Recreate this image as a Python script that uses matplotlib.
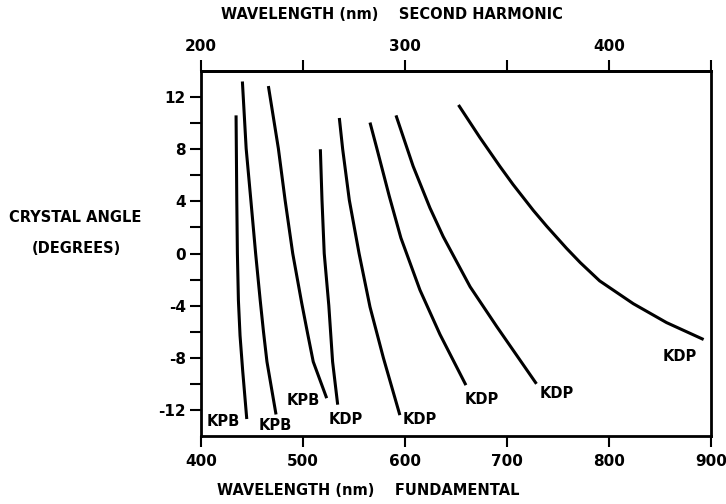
import numpy as np
import matplotlib.pyplot as plt

plt.rcParams['font.family'] = 'DejaVu Sans'
plt.rcParams['font.weight'] = 'bold'

# phase matching curves: fundamental wavelength (nm) vs crystal angle (deg)
kpb1_x = [434.3, 435.0, 435.6, 436.6, 438.2, 440.8, 444.8]
kpb1_y = [10.6, 4.1, 0.0, -3.6, -6.3, -9.0, -12.7]

kpb2_x = [440.5, 444.2, 448.8, 453.5, 458.0, 461.2, 464.6, 473.5]
kpb2_y = [13.2, 8.06, 4.1, 0.0, -3.6, -6.0, -8.3, -12.35]

kpb3_x = [466.0, 475.8, 482.4, 489.9, 498.7, 504.4, 510.0, 523.2]
kpb3_y = [12.85, 8.06, 4.1, 0.0, -3.8, -6.1, -8.3, -11.1]

kdp4_x = [517.0, 518.6, 520.8, 525.3, 529.0, 534.0]
kdp4_y = [8.0, 4.1, 0.0, -4.0, -8.3, -11.6]

kdp5_x = [535.6, 538.9, 545.4, 555.0, 565.7, 578.8, 595.0]
kdp5_y = [10.4, 8.0, 4.1, 0.0, -4.1, -8.0, -12.4]

kdp6_x = [565.7, 572.3, 584.6, 596.0, 614.7, 634.3, 659.8]
kdp6_y = [10.05, 8.1, 4.4, 1.2, -2.8, -6.2, -10.1]

kdp7_x = [591.2, 608.0, 624.5, 637.5, 663.9, 690.0, 729.0]
kdp7_y = [10.6, 6.7, 3.5, 1.3, -2.55, -5.6, -10.0]

kdp8_x = [652.5, 673.5, 693.0, 706.0, 726.0, 739.0, 758.5, 772.0, 791.0, 824.0, 856.6, 893.0]
kdp8_y = [11.4, 8.9, 6.7, 5.3, 3.3, 2.1, 0.4, -0.7, -2.1, -3.85, -5.3, -6.6]

curves = [(kpb1_x, kpb1_y), (kpb2_x, kpb2_y), (kpb3_x, kpb3_y), (kdp4_x, kdp4_y),
          (kdp5_x, kdp5_y), (kdp6_x, kdp6_y), (kdp7_x, kdp7_y), (kdp8_x, kdp8_y)]

label_text = ['KPB', 'KPB', 'KPB', 'KDP', 'KDP', 'KDP', 'KDP', 'KDP']
label_x = [421.3, 472.5, 500.3, 542.2, 614.7, 675.5, 748.7, 869.6]
label_y = [-12.9, -13.2, -11.3, -12.7, -12.7, -11.2, -10.75, -7.9]

x_ticks = [400, 500, 600, 700, 800, 900]
y_ticks = [-12, -8, -4, 0, 4, 8, 12]
y_minor = [-10, -6, -2, 2, 6, 10]
top_ticks = [200, 300, 400]
top_minor = [250, 350, 450]

fig = plt.figure(figsize=(7.26, 5.04), dpi=100)
ax = fig.add_axes([0.277, 0.135, 0.702, 0.724])

for cx, cy in curves:
    ax.plot(cx, cy, color='black', lw=2.2, solid_capstyle='butt', solid_joinstyle='round')

for t, lx, ly in zip(label_text, label_x, label_y):
    ax.text(lx, ly, t, ha='center', va='center', fontsize=10.5, fontweight='bold')

ax.set_xlim(400, 900)
ax.set_ylim(-14, 14)
ax.set_xticks(x_ticks)
ax.set_yticks(y_ticks)
ax.set_yticks(y_minor, minor=True)
ax.set_yticklabels([str(v) for v in y_ticks])

for s in ax.spines.values():
    s.set_linewidth(2)

ax.tick_params(axis='both', which='both', direction='out', length=8, width=1.5,
               labelsize=11)
ax.tick_params(axis='x', pad=5)
ax.tick_params(axis='y', pad=3)

top = ax.secondary_xaxis('top', functions=(lambda x: x / 2, lambda x: x * 2))
top.set_xticks(top_ticks)
top.set_xticks(top_minor, minor=True)
top.tick_params(which='both', direction='out', length=8, width=1.5, labelsize=11, pad=4)
top.spines['top'].set_linewidth(2)

fig.text(0.540, 0.972, 'WAVELENGTH (nm)    SECOND HARMONIC', ha='center', va='center',
         fontsize=10.5, fontweight='bold')
fig.text(0.507, 0.026, 'WAVELENGTH (nm)    FUNDAMENTAL', ha='center', va='center',
         fontsize=10.5, fontweight='bold')
fig.text(0.103, 0.569, 'CRYSTAL ANGLE', ha='center', va='center',
         fontsize=10.5, fontweight='bold')
fig.text(0.105, 0.506, '(DEGREES)', ha='center', va='center',
         fontsize=10.5, fontweight='bold')

plt.savefig('out.png', dpi=100)
